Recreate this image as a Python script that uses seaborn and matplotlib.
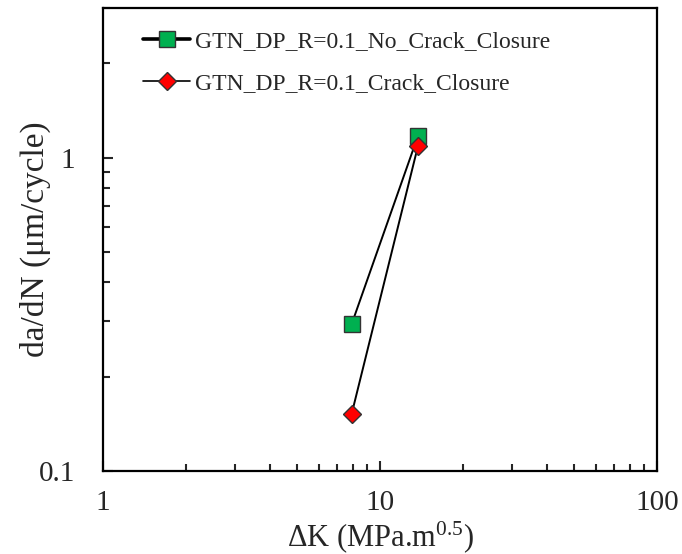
import numpy as np
import pandas as pd
import matplotlib
matplotlib.use("Agg")
import matplotlib.pyplot as plt
import matplotlib.ticker as mticker
import seaborn as sns

# Data
dk_no_closure = [7.9, 13.7]
dadn_no_closure = [0.294, 1.17]
dk_closure = [7.9, 13.7]
dadn_closure = [0.152, 1.085]
label_no_closure = "GTN_DP_R=0.1_No_Crack_Closure"
label_closure = "GTN_DP_R=0.1_Crack_Closure"

sns.set_style("white")
plt.rcParams['font.family'] = ['Liberation Serif', 'DejaVu Sans']
plt.rcParams['mathtext.fontset'] = 'custom'
plt.rcParams['mathtext.rm'] = 'Liberation Serif'

fig = plt.figure(figsize=(6.82, 5.54), dpi=100)
ax = fig.add_axes([103/682, 1 - 471/554, (657-103)/682, (471-8)/554])

df1 = pd.DataFrame({"dk": dk_no_closure, "dadn": dadn_no_closure})
df2 = pd.DataFrame({"dk": dk_closure, "dadn": dadn_closure})

sns.lineplot(data=df1, x="dk", y="dadn", ax=ax, color="black", lw=1.4,
             marker="s", markersize=11, markerfacecolor="#00B050",
             markeredgecolor="#333333", markeredgewidth=1.0,
             label=label_no_closure)
sns.lineplot(data=df2, x="dk", y="dadn", ax=ax, color="black", lw=1.4,
             marker="D", markersize=9, markerfacecolor="#FF0000",
             markeredgecolor="#333333", markeredgewidth=1.0,
             label=label_closure)

ax.set_xscale("log")
ax.set_yscale("log")
ax.set_xlim(1, 100)
ax.set_ylim(0.1, 3)

fmt = mticker.FuncFormatter(lambda v, p: "%g" % v)
for axis in (ax.xaxis, ax.yaxis):
    axis.set_major_locator(mticker.LogLocator(base=10))
    axis.set_minor_locator(mticker.LogLocator(base=10, subs=np.arange(2, 10)))
    axis.set_major_formatter(fmt)
    axis.set_minor_formatter(mticker.NullFormatter())

ax.tick_params(which="both", direction="in", width=1.5, labelsize=21,
               bottom=True, left=True, top=False, right=False)
ax.tick_params(axis="x", pad=14)
ax.tick_params(axis="y", pad=20)
ax.tick_params(which="major", length=7)
ax.tick_params(which="minor", length=5)
for s in ax.spines.values():
    s.set_linewidth(1.6)
    s.set_color("black")

ax.set_xlabel("ΔK (MPa.m$\\mathregular{^{0.5}}$)", fontsize=22, va="baseline")
ax.set_ylabel("da/dN (μm/cycle)", fontsize=24, va="baseline")
ax.xaxis.set_label_coords(0.5, -0.162)
ax.yaxis.set_label_coords(-0.1065, 0.5)

leg = ax.legend(loc="upper left", bbox_to_anchor=(143/682, 1 - 31/554),
                bbox_transform=fig.transFigure, frameon=False, fontsize=17,
                handlelength=2.0, handletextpad=0.2, labelspacing=0.85,
                borderpad=0, borderaxespad=0)
handles = leg.legend_handles
handles[0].set_linewidth(2.6)
handles[1].set_linewidth(1.2)

fig.savefig("out.png", dpi=100)
